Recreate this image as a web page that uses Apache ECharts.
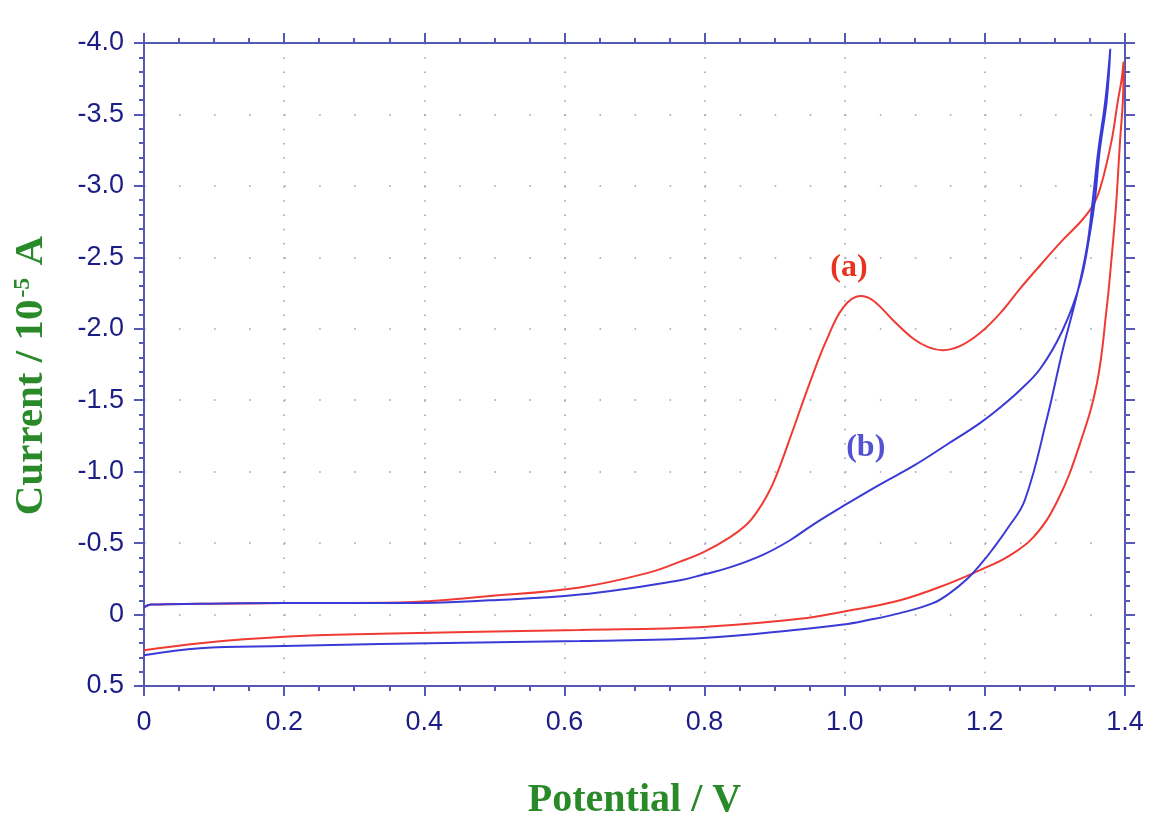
<!DOCTYPE html>
<html>
<head>
<meta charset="utf-8">
<title>Cyclic voltammograms</title>
<script src="https://cdn.jsdelivr.net/npm/echarts@6/dist/echarts.min.js"></script>
<style>
  html, body { margin: 0; padding: 0; background: #fff; }
  #chart-container { width: 1163px; height: 835px; }
</style>
</head>
<body>
<div id="chart-container"></div>
<script>
// curve (a): forward scan then reverse scan, potential in V, current in 1e-5 A
var potentialA = [0.000, 0.010, 0.080, 0.200, 0.365, 0.494, 0.622, 0.718, 0.765, 0.800,
  0.836, 0.860, 0.875, 0.890, 0.903, 0.926, 0.950, 0.974, 0.998, 1.022,
  1.040, 1.069, 1.098, 1.120, 1.140, 1.165, 1.193, 1.222, 1.250, 1.280,
  1.311, 1.335, 1.350, 1.360, 1.370, 1.381, 1.390, 1.395, 1.398,
  1.397, 1.393, 1.387, 1.380, 1.374, 1.360, 1.336, 1.304, 1.269, 1.231,
  1.197, 1.150, 1.079, 0.998, 0.936, 0.798, 0.622, 0.337, 0.200, 0.080, 0.000];
var currentA = [-0.05, -0.07, -0.075, -0.08, -0.085, -0.13, -0.19, -0.29, -0.37, -0.44,
  -0.54, -0.63, -0.72, -0.84, -0.98, -1.29, -1.62, -1.92, -2.15, -2.23,
  -2.20, -2.06, -1.93, -1.87, -1.85, -1.88, -1.97, -2.11, -2.28, -2.45,
  -2.62, -2.74, -2.83, -2.92, -3.08, -3.32, -3.60, -3.74, -3.87,
  -3.60, -3.32, -2.85, -2.45, -2.15, -1.62, -1.20, -0.80, -0.54, -0.40,
  -0.32, -0.22, -0.10, -0.02, 0.03, 0.087, 0.108, 0.135, 0.155, 0.20, 0.25];

// curve (b)
var potentialB = [0.000, 0.010, 0.080, 0.200, 0.365, 0.494, 0.622, 0.765, 0.798, 0.836,
  0.884, 0.922, 0.955, 0.998, 1.050, 1.098, 1.146, 1.193, 1.222, 1.250,
  1.279, 1.311, 1.336, 1.350, 1.357, 1.364, 1.374, 1.379,
  1.372, 1.362, 1.354, 1.346, 1.332, 1.311, 1.289, 1.257, 1.232, 1.210,
  1.197, 1.175, 1.150, 1.126, 1.079, 1.032, 0.998, 0.936, 0.798, 0.622,
  0.337, 0.200, 0.080, 0.000];
var currentB = [-0.05, -0.07, -0.075, -0.08, -0.08, -0.10, -0.14, -0.24, -0.28, -0.33,
  -0.42, -0.52, -0.63, -0.76, -0.91, -1.04, -1.19, -1.34, -1.45, -1.57,
  -1.72, -1.99, -2.32, -2.67, -2.90, -3.25, -3.60, -3.96,
  -3.60, -3.25, -2.90, -2.58, -2.25, -1.85, -1.38, -0.80, -0.60, -0.45,
  -0.37, -0.25, -0.15, -0.08, -0.01, 0.04, 0.07, 0.105, 0.164, 0.185,
  0.206, 0.22, 0.235, 0.285];

// where the curve labels sit, in data units
var labelA = [1.006, -2.43];
var labelB = [1.030, -1.17];

function pairs(xs, ys) {
  return xs.map(function (x, i) { return [x, ys[i]]; });
}

var axisBlue = '#5659b3';
var labelNavy = '#1d1d86';
var titleGreen = '#2a8a2a';
var numFont = '"Liberation Sans Narrow", "Arial Narrow", "Liberation Sans", sans-serif';
var serifFont = '"Liberation Serif", "Times New Roman", serif';

function fmt(v) {
  return v === 0 ? '0' : v.toFixed(1);
}

var dom = document.getElementById('chart-container');
var myChart = echarts.init(dom, null, { renderer: 'canvas' });

var xCommon = {
  type: 'value',
  min: 0,
  max: 1.4,
  interval: 0.2,
  axisLine: { show: true, onZero: false, lineStyle: { color: axisBlue, width: 2 } },
  axisTick: { show: true, inside: false, length: 10, lineStyle: { color: axisBlue, width: 2 } },
  minorTick: { show: true, splitNumber: 4, length: 5, lineStyle: { color: axisBlue, width: 2 } }
};
var yCommon = {
  type: 'value',
  inverse: true,
  min: -4,
  max: 0.5,
  interval: 0.5,
  axisLine: { show: true, onZero: false, lineStyle: { color: axisBlue, width: 2 } },
  axisTick: { show: true, inside: false, length: 10, lineStyle: { color: axisBlue, width: 2 } },
  minorTick: { show: true, splitNumber: 5, length: 5, lineStyle: { color: axisBlue, width: 2 } }
};

var option = {
  backgroundColor: '#ffffff',
  animation: false,
  grid: { left: 144, right: 38, top: 43, bottom: 149, containLabel: false },
  xAxis: [
    Object.assign({}, xCommon, {
      position: 'bottom',
      name: 'Potential / V',
      nameLocation: 'middle',
      nameGap: 95,
      nameTextStyle: { color: titleGreen, fontFamily: serifFont, fontWeight: 'bold', fontSize: 40 },
      axisLabel: { color: labelNavy, fontFamily: numFont, fontSize: 27, margin: 23, formatter: fmt },
      splitLine: { show: true, lineStyle: { color: '#9a9ab0', width: 1.5, type: [1.5, 12.79] } }
    }),
    Object.assign({}, xCommon, {
      position: 'top',
      axisLabel: { show: false },
      splitLine: { show: false }
    })
  ],
  yAxis: [
    Object.assign({}, yCommon, {
      position: 'left',
      name: 'Current / 10{sup|-5} A',
      nameLocation: 'middle',
      nameRotate: 90,
      nameGap: 92,
      nameTextStyle: {
        color: titleGreen, fontFamily: serifFont, fontWeight: 'bold', fontSize: 41,
        padding: [0, 22, 0, 0],
        rich: {
          sup: { color: titleGreen, fontFamily: serifFont, fontWeight: 'bold', fontSize: 24, verticalAlign: 'top', padding: [0, 2, 16, 2] }
        }
      },
      axisLabel: { color: labelNavy, fontFamily: numFont, fontSize: 27, margin: 20, formatter: fmt },
      splitLine: { show: true, lineStyle: { color: '#9a9ab0', width: 1.5, type: [1.5, 33.54] } }
    }),
    Object.assign({}, yCommon, {
      position: 'right',
      axisLabel: { show: false },
      splitLine: { show: false }
    })
  ],
  series: [
    {
      name: '(a)',
      type: 'line',
      xAxisIndex: 0,
      yAxisIndex: 0,
      data: pairs(potentialA, currentA),
      showSymbol: false,
      smooth: 0.4,
      lineStyle: { color: '#ef3b33', width: 2 },
      markPoint: {
        silent: true,
        symbol: 'circle',
        symbolSize: 1,
        itemStyle: { color: 'rgba(0,0,0,0)' },
        label: {
          show: true, position: 'inside', formatter: '(a)',
          color: '#e8331f', fontFamily: serifFont, fontWeight: 'bold', fontSize: 32
        },
        data: [{ coord: labelA }]
      }
    },
    {
      name: '(b)',
      type: 'line',
      xAxisIndex: 0,
      yAxisIndex: 0,
      data: pairs(potentialB, currentB),
      showSymbol: false,
      smooth: 0.4,
      lineStyle: { color: '#3a3ad6', width: 2 },
      markPoint: {
        silent: true,
        symbol: 'circle',
        symbolSize: 1,
        itemStyle: { color: 'rgba(0,0,0,0)' },
        label: {
          show: true, position: 'inside', formatter: '(b)',
          color: '#5252d2', fontFamily: serifFont, fontWeight: 'bold', fontSize: 32
        },
        data: [{ coord: labelB }]
      }
    }
  ]
};

myChart.setOption(option);

window.addEventListener('resize', myChart.resize);
</script>
</body>
</html>
